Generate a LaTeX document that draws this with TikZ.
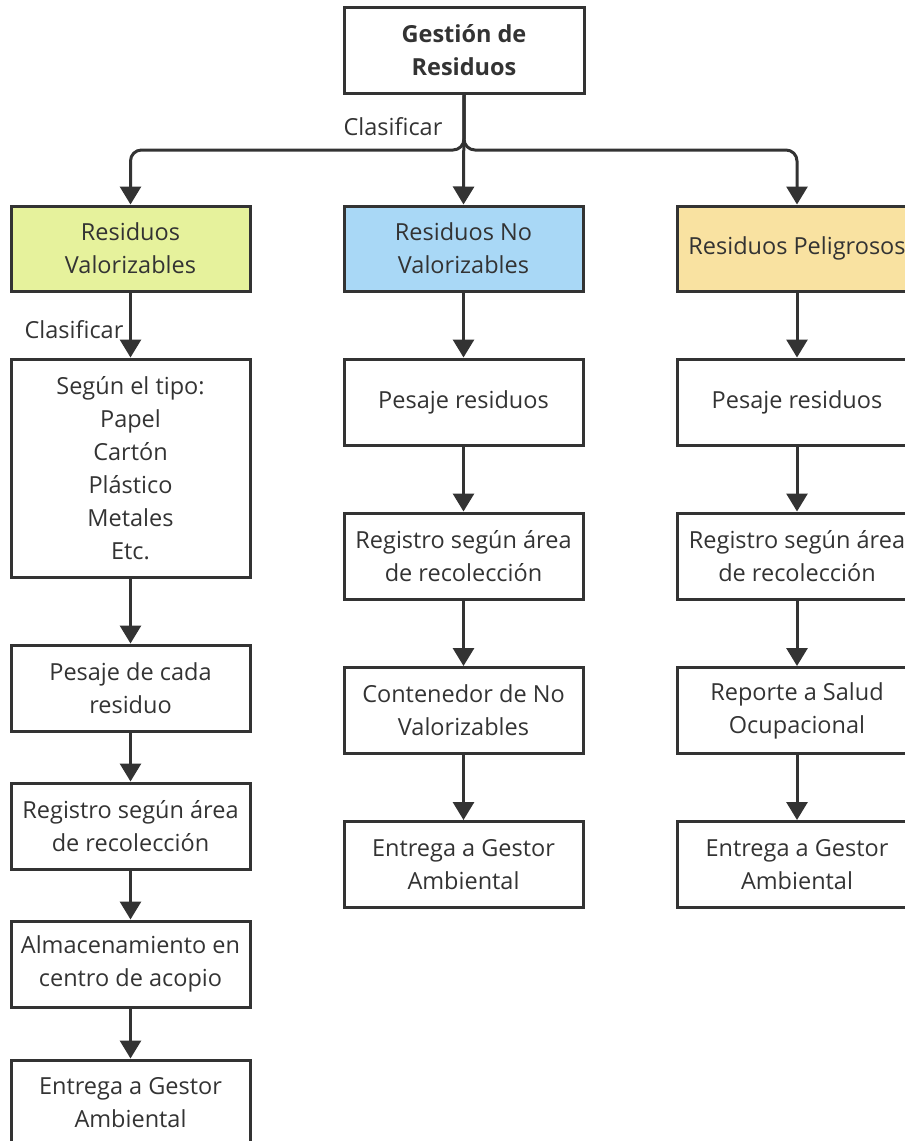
\documentclass[tikz,border=0pt]{standalone}
\usepackage{fontspec}
\setmainfont{Open Sans}
\usetikzlibrary{arrows.meta}
\definecolor{ink}{HTML}{333333}
\definecolor{fgreen}{HTML}{E6F29C}
\definecolor{fblue}{HTML}{A9D8F6}
\definecolor{fyellow}{HTML}{F9E2A1}
\begin{document}
\begin{tikzpicture}[x=1pt,y=-1pt,
  box/.style={draw=ink, line width=3pt, text=ink, align=center, inner sep=0pt,
    minimum width=239pt, minimum height=85pt, font=\fontsize{23.5}{33}\selectfont},
  conn/.style={draw=ink, line width=3pt, -{Triangle[width=21pt,length=18pt]}},
  lbl/.style={text=ink, inner sep=0pt, font=\fontsize{23.5}{33}\selectfont}]
\useasboundingbox (0,0) rectangle (905,1141);
% top
\node[box, minimum width=240pt, minimum height=86pt, font=\fontsize{23.5}{33}\selectfont\bfseries] (top) at (464,50) {Gestión de\\Residuos};
% column 1
\node[box, fill=fgreen] (v1) at (130.5,248.5) {Residuos\\Valorizables};
\node[box, minimum height=218pt] (v2) at (130.5,468) {Según el tipo:\\Papel\\Cartón\\Plástico\\Metales\\Etc.};
\node[box, minimum height=86pt] (v3) at (130.5,688) {Pesaje de cada\\residuo};
\node[box, minimum height=86pt] (v4) at (130.5,826) {Registro según área\\de recolección};
\node[box, minimum height=86pt] (v5) at (130.5,964) {Almacenamiento en\\centro de acopio};
\node[box, minimum height=86pt] (v6) at (130.5,1103) {Entrega a Gestor\\Ambiental};
% column 2
\node[box, fill=fblue] (n1) at (463.5,248.5) {Residuos No\\Valorizables};
\node[box, minimum height=86pt] (n2) at (463.5,402) {Pesaje residuos};
\node[box, minimum height=86pt] (n3) at (463.5,556) {Registro según área\\de recolección};
\node[box, minimum height=86pt] (n4) at (463.5,710.5) {Contenedor de No\\Valorizables};
\node[box, minimum height=86pt] (n5) at (463.5,864.5) {Entrega a Gestor\\Ambiental};
% column 3
\node[box, fill=fyellow] (p1) at (797,248.5) {Residuos Peligrosos};
\node[box, minimum height=86pt] (p2) at (797,402) {Pesaje residuos};
\node[box, minimum height=86pt] (p3) at (797,556) {Registro según área\\de recolección};
\node[box, minimum height=86pt] (p4) at (797,710.5) {Reporte a Salud\\Ocupacional};
\node[box, minimum height=86pt] (p5) at (797,864.5) {Entrega a Gestor\\Ambiental};
% labels
\node[lbl] (l1) at (393,127) {Clasificar};
\node[lbl] (l2) at (74,330) {Clasificar};
% top connectors
\coordinate (j) at (464,150);
\draw[conn, rounded corners=11pt] (top.south) -- (j) -- (v1.north |- j) -- (v1.north);
\draw[conn, rounded corners=11pt] (top.south) -- (j) -- (p1.north |- j) -- (p1.north);
\draw[conn] (top.south) -- (n1.north);
% column connectors
\draw[conn] (v1) -- (v2);
\draw[conn] (v2) -- (v3);
\draw[conn] (v3) -- (v4);
\draw[conn] (v4) -- (v5);
\draw[conn] (v5) -- (v6);
\draw[conn] (n1) -- (n2);
\draw[conn] (n2) -- (n3);
\draw[conn] (n3) -- (n4);
\draw[conn] (n4) -- (n5);
\draw[conn] (p1) -- (p2);
\draw[conn] (p2) -- (p3);
\draw[conn] (p3) -- (p4);
\draw[conn] (p4) -- (p5);
\end{tikzpicture}
\end{document}
